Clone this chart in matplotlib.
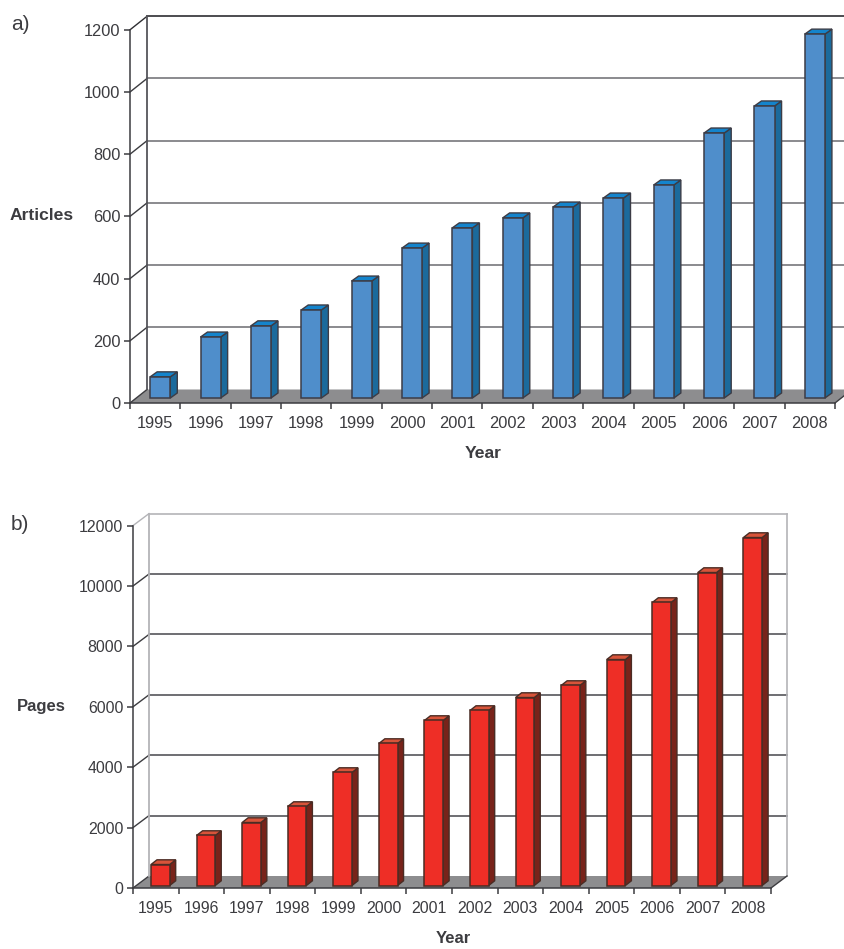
import matplotlib
matplotlib.use("Agg")
import matplotlib.pyplot as plt
from matplotlib.patches import Polygon
from matplotlib.transforms import Affine2D

plt.rcParams['font.family'] = ['Liberation Sans', 'DejaVu Sans']

W, H = 845, 949
years = ['1995', '1996', '1997', '1998', '1999', '2000', '2001', '2002',
         '2003', '2004', '2005', '2006', '2007', '2008']
articles = [68, 196, 232, 283, 376, 482, 547, 579, 614, 643, 685, 852, 939, 1170]
pages = [695, 1656, 2086, 2616, 3742, 4702, 5464, 5795, 6225, 6623, 7483, 9371, 10364, 11523]
article_ticks = [0, 200, 400, 600, 800, 1000, 1200]
page_ticks = [0, 2000, 4000, 6000, 8000, 10000, 12000]

fig = plt.figure(figsize=(W / 100, H / 100), dpi=100, facecolor='white')
px = Affine2D().scale(1 / W, -1 / H).translate(0, 1) + fig.transFigure
INK = '#3c3c40'


def panel(box, values, ticks, ylabel, ylabel_xy, xlabel_xy, tag, tag_xy, wall_px, base_px,
          bar_px, front, top, side, edge, wall_col, top_col, grid_col, fs, bold_fs, width, centre):
    left, right, y_top, y_zero = box
    ax = fig.add_axes([left / W, 1 - y_zero / H, (right - left) / W, (y_zero - y_top) / H])
    ax.set_xlim(0, len(values))
    ax.set_ylim(0, ticks[-1])
    ax.patch.set_visible(False)
    ux = len(values) / (right - left)
    uy = ticks[-1] / (y_zero - y_top)
    wx, wy = wall_px[0] * ux, wall_px[1] * uy
    n = len(values)

    # floor
    ax.add_patch(Polygon([(0, 0), (n, 0), (n + wx, wy), (wx, wy)], closed=True,
                         facecolor='#8d8d8f', edgecolor='none', clip_on=False, zorder=1))
    # back wall lines and grid
    for i, t in enumerate(ticks):
        c = top_col if t == ticks[-1] else grid_col
        if t != ticks[0]:
            ax.plot([wx, n + wx], [t + wy, t + wy], color=c, lw=1.2, clip_on=False, zorder=1.5)
        ax.plot([0, wx], [t, t + wy], color=c if t == ticks[-1] else INK, lw=1.0,
                clip_on=False, zorder=1.5)
    ax.plot([wx, wx], [wy, ticks[-1] + wy], color=wall_col, lw=1.3, clip_on=False, zorder=1.6)
    ax.plot([n + wx, n + wx], [wy, ticks[-1] + wy], color=top_col, lw=1.2, clip_on=False, zorder=1.6)
    ax.plot([n, n + wx], [0, wy], color=INK, lw=1.0, clip_on=False, zorder=1.6)

    # 3-D bars
    base = base_px * uy
    dx, dy = bar_px[0] * ux, bar_px[1] * uy
    xs = [i + centre for i in range(n)]
    ax.bar(xs, values, width=width, bottom=base, color=front, edgecolor=edge, linewidth=1.1,
           clip_on=False, zorder=3)
    for x, v in zip(xs, values):
        x0, x1 = x - width / 2, x + width / 2
        yt = base + v
        ax.add_patch(Polygon([(x1, base), (x1 + dx, base + dy), (x1 + dx, yt + dy), (x1, yt)],
                             closed=True, facecolor=side, edgecolor=edge, lw=1.0,
                             clip_on=False, zorder=2.8))
        ax.add_patch(Polygon([(x0, yt), (x1, yt), (x1 + dx, yt + dy), (x0 + dx, yt + dy)],
                             closed=True, facecolor=top, edgecolor=edge, lw=1.0,
                             clip_on=False, zorder=2.8))

    for s in ['top', 'right']:
        ax.spines[s].set_visible(False)
    for s in ['left', 'bottom']:
        ax.spines[s].set_color(INK)
        ax.spines[s].set_linewidth(1.1)
        ax.spines[s].set_zorder(4)
    ax.set_yticks(ticks)
    ax.set_yticklabels([str(t) for t in ticks])
    ax.set_xticks(range(n + 1))
    ax.set_xticklabels([])
    ax.set_xticks([i + 0.5 for i in range(n)], minor=True)
    ax.set_xticklabels(years, minor=True)
    ax.tick_params(axis='y', length=4.3, width=1.1, color=INK, labelcolor=INK, labelsize=fs, pad=2.8)
    ax.tick_params(axis='x', which='major', length=4.3, width=1.1, color=INK)
    ax.tick_params(axis='x', which='minor', length=0, labelcolor=INK, labelsize=fs, pad=9.4)

    ax.set_xlabel('Year', fontweight='bold', fontsize=bold_fs, color=INK)
    ax.xaxis.set_label_coords(xlabel_xy[0], xlabel_xy[1], transform=px)
    ax.xaxis.label.set_va('center')
    ax.set_ylabel(ylabel, fontweight='bold', fontsize=bold_fs, color=INK, rotation=0,
                  ha='center', va='center')
    ax.yaxis.set_label_coords(ylabel_xy[0], ylabel_xy[1], transform=px)
    fig.text(tag_xy[0], tag_xy[1], tag, transform=px, fontsize=15, color=INK,
             ha='left', va='center')


panel((130, 835, 29.8, 403), articles, article_ticks, 'Articles', (42, 215), (483, 454),
      'a)', (11, 25), (17, 13.5), 5, (7, 5), '#4f8ecb', '#1484cc', '#1b6a9c', '#3c3c46',
      '#55555a', '#2e2e32', '#77777c', 11.8, 12.6, 0.40, 0.60)
panel((133, 771, 525.6, 888), pages, page_ticks, 'Pages', (41, 707), (453, 939),
      'b)', (11, 525), (16, 12), 2.5, (6, 4.7), '#ee2e26', '#d8543a', '#78231a', '#4a2c24',
      '#b4b4b8', '#b4b4b8', '#55555a', 11.4, 12.0, 0.41, 0.60)

fig.savefig('out.png', dpi=100, facecolor='white')
